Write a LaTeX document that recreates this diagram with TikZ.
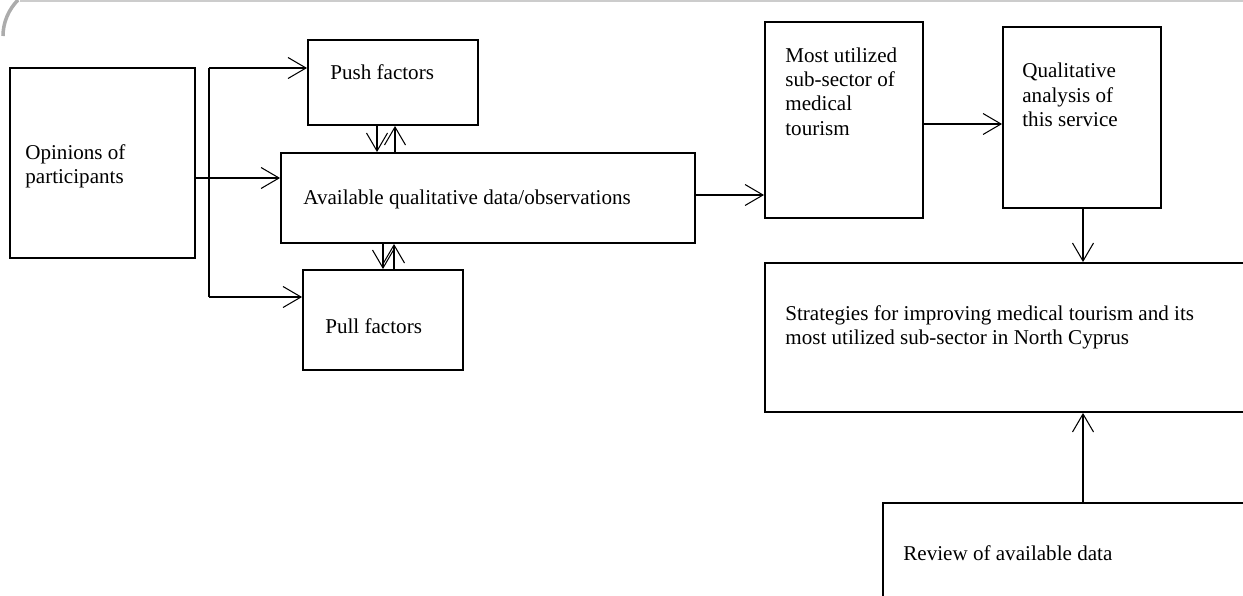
\documentclass[tikz,border=0pt]{standalone}
\usepackage{fontspec}
\setmainfont{Liberation Serif}
\usetikzlibrary{arrows.meta}

\tikzset{
  box/.style={draw, line width=1.1pt, rectangle, inner sep=0pt},
  txt/.style={anchor=west, align=left, inner sep=0pt, font=\fontsize{12}{13.8}\selectfont},
  arr/.style={line width=0.6pt, -{Straight Barb[length=3.6mm,width=4.2mm,line width=0.6pt]}}
}

\begin{document}
\begin{tikzpicture}[x=0.02cm, y=-0.02cm]
  \useasboundingbox (0,0) rectangle (1243,595);
  % scan edge at the top
  \draw[gray!40, line width=1pt] (20,1) -- (1243,1);
  \draw[gray!65, line width=2pt] (18,0) .. controls (9,9) and (3,22) .. (3,36);

  % Draw the boxes
  \node[box, minimum width=3.7cm, minimum height=3.8cm] (opinions) at (102.5,163) {};
  \node[box, minimum width=3.4cm, minimum height=1.7cm] (push) at (393,82.5) {};
  \node[box, minimum width=8.28cm, minimum height=1.8cm] (avail) at (488,198) {};
  \node[box, minimum width=3.2cm, minimum height=2cm] (pull) at (383,320) {};
  \node[box, minimum width=3.16cm, minimum height=3.92cm] (most) at (844,120) {};
  \node[box, minimum width=3.16cm, minimum height=3.62cm] (qual) at (1082,117.5) {};
  \node[box, minimum width=9.9cm, minimum height=2.98cm] (strat) at (1012.5,337.5) {};
  \node[box, minimum width=7.54cm, minimum height=2.14cm] (review) at (1071.5,556.5) {};

  % Texts inside the boxes
  \node[txt] (opinionstxt) at (25,166) {Opinions of\\participants};
  \node[txt] (pushtxt) at (330,72) {Push factors};
  \node[txt] (availtxt) at (303,199) {Available qualitative data/observations};
  \node[txt] (pulltxt) at (325,326) {Pull factors};
  \node[txt] (mosttxt) at (785,91.5) {Most utilized\\sub-sector of\\medical\\tourism};
  \node[txt] (qualtxt) at (1022,95) {Qualitative\\analysis of\\this service};
  \node[txt] (strattxt) at (785,327) {Strategies for improving medical tourism and its\\most utilized sub-sector in North Cyprus};
  \node[txt] (reviewtxt) at (903,553) {Review of available data};

  % Connectors
  \coordinate (br) at (209,178);
  \coordinate (up) at (209,68);
  \coordinate (dn) at (209,297);
  \coordinate (am) at (0,195);
  \coordinate (mq) at (0,124);
  \draw[line width=0.6pt] (up) -- (dn);
  \draw[arr] (opinions.east |- br) -- (avail.west |- br);
  \draw[arr] (up) -- (push.west |- up);
  \draw[arr] (dn) -- (pull.west |- dn);
  \draw[arr] ([xshift=-0.32cm]push.south) -- ([xshift=-0.32cm]push.south |- avail.north);
  \draw[arr] ([xshift=0.04cm]push.south |- avail.north) -- ([xshift=0.04cm]push.south);
  \draw[arr] (pull.north |- avail.south) -- (pull.north);
  \draw[arr] ([xshift=0.22cm]pull.north) -- ([xshift=0.22cm]pull.north |- avail.south);
  \draw[arr] (avail.east |- am) -- (most.west |- am);
  \draw[arr] (most.east |- mq) -- (qual.west |- mq);
  \draw[arr] ([xshift=0.02cm]qual.south) -- ([xshift=0.02cm]qual.south |- strat.north);
  \draw[arr] ([xshift=0.02cm]qual.south |- review.north) -- ([xshift=0.02cm]qual.south |- strat.south);
\end{tikzpicture}
\end{document}
